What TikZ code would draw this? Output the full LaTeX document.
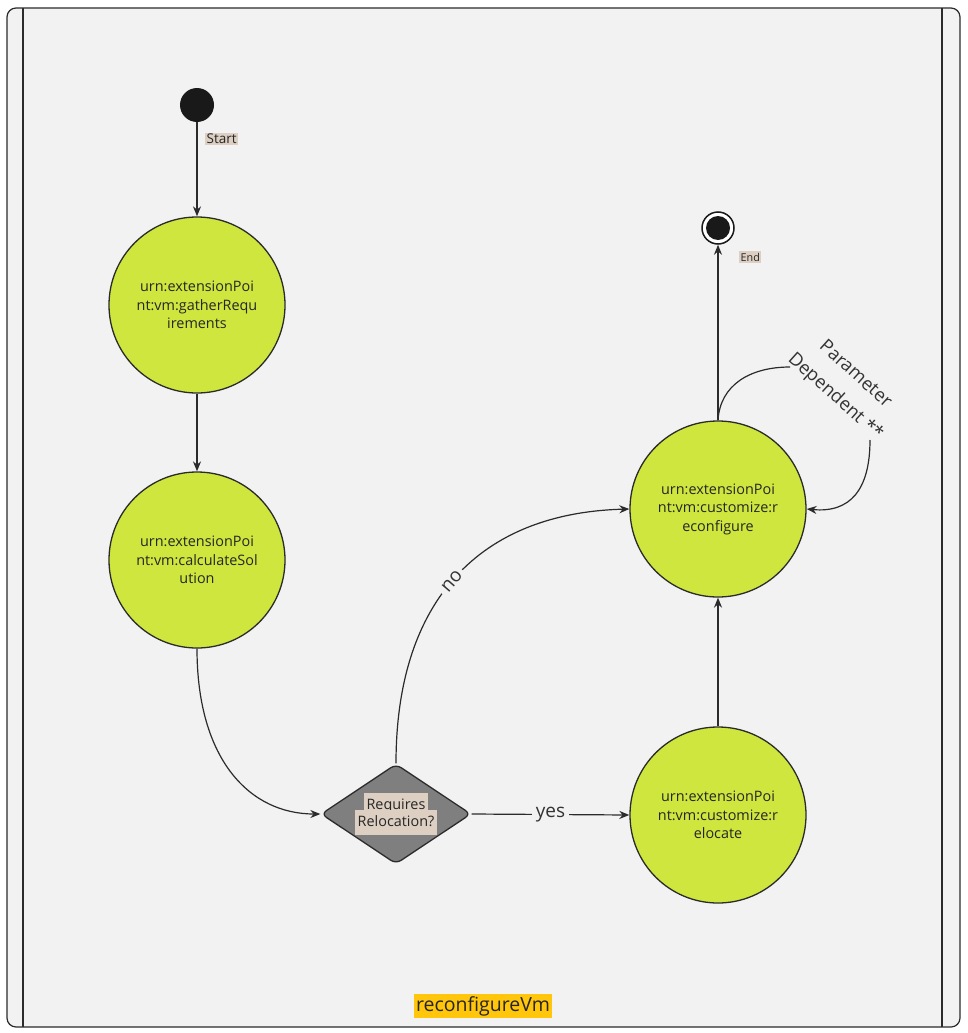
\documentclass[tikz,border=0pt]{standalone}
\usepackage{fontspec}
\setmainfont{Open Sans}
\usetikzlibrary{shapes.geometric,arrows.meta,positioning}
\definecolor{bgc}{HTML}{F2F2F2}
\definecolor{linec}{HTML}{2B2B2B}
\definecolor{greenc}{HTML}{CFE63E}
\definecolor{tanc}{HTML}{DDD0C3}
\definecolor{diac}{HTML}{7F7F7F}
\definecolor{yelc}{HTML}{FFC60B}
\tikzset{
  activity/.style={circle,draw=linec,line width=1.3pt,fill=greenc,minimum size=176pt,inner sep=0pt,align=center,font=\fontsize{14.4}{18.5}\selectfont,text=black!85},
  flow/.style={draw=linec,line width=1.2pt,-{Stealth[length=10pt,width=8pt]}},
  taglabel/.style={fill=tanc,inner sep=1.5pt,text=black!85},
  edgelabel/.style={fill=bgc,inner sep=4pt,font=\fontsize{19}{22}\selectfont,text=black!80},
}
\begin{document}
\begin{tikzpicture}[x=1pt,y=-1pt]
\useasboundingbox (0,0) rectangle (967,1033);
\fill[white] (0,0) rectangle (967,1033);
% frame
\draw[linec,line width=1.2pt,fill=bgc,rounded corners=9pt] (7,8) rectangle (960,1027);
\draw[linec,line width=1.2pt] (23,8) -- (23,1027);
\draw[linec,line width=1.2pt] (942,8) -- (942,1027);
% nodes
\node[circle,fill=black!90,minimum size=34pt,inner sep=0pt] (start) at (197,105) {};
\node[taglabel,font=\fontsize{13.5}{15}\selectfont,anchor=west] (startlbl) at (205,139) {Start};
\node[activity] (gather) at (197,305) {urn:extensionPoi\\nt:vm:gatherRequ\\irements};
\node[activity] (calc) at (197,560) {urn:extensionPoi\\nt:vm:calculateSol\\ution};
\node[draw=linec,line width=1.3pt,fill=diac,diamond,aspect=1.5,minimum width=150pt,minimum height=100pt,inner sep=0pt,rounded corners=6pt] (dec) at (396,814) {};
\node[align=center,font=\fontsize{14.4}{19}\selectfont,text=black!85] (declbl) at (396,814) {\colorbox{tanc}{\strut Requires}\\[-9pt]\colorbox{tanc}{\strut Relocation?}};
\node[activity] (reloc) at (718,815) {urn:extensionPoi\\nt:vm:customize:r\\elocate};
\node[activity] (reconf) at (718,509) {urn:extensionPoi\\nt:vm:customize:r\\econfigure};
\node[circle,draw=black!90,line width=1.5pt,fill=white,minimum size=32pt,inner sep=0pt] (endo) at (718,228) {};
\node[circle,fill=black!90,minimum size=24pt,inner sep=0pt] (endi) at (718,228) {};
\node[taglabel,font=\fontsize{10.8}{12}\selectfont,anchor=west] (endlbl) at (739,257) {End};
\node[fill=yelc,inner sep=2pt,font=\fontsize{19.5}{22}\selectfont,text=black!85] (title) at (483,1006) {reconfigureVm};
% param label
\node[rotate=-42,align=center,font=\fontsize{18.3}{30}\selectfont,text=black!80] (param) at (845,386) {Parameter\\Dependent **};
\coordinate (pin) at (790,367);
\coordinate (pout) at (870,440);
% connectors
\draw[flow] (start) -- (gather);
\draw[flow] (gather) -- (calc);
\draw[flow] (calc.south) .. controls (197,760) and (250,814) .. (dec.west);
\draw[flow] (dec.east) -- node[edgelabel] (yes) {yes} (reloc.west);
\draw[flow] (dec.north) .. controls (396,600) and (480,513) .. node[pos=0.48,sloped,edgelabel] (no) {no} (reconf.west);
\draw[flow] (reloc) -- (reconf);
\draw[flow] (reconf.north) -- (endo.south);
\draw[draw=linec,line width=1.2pt] (reconf.north) .. controls (720,385) and (750,367) .. (pin);
\draw[flow] (pout) .. controls (870,490) and (850,513) .. (reconf.east);
\end{tikzpicture}
\end{document}
